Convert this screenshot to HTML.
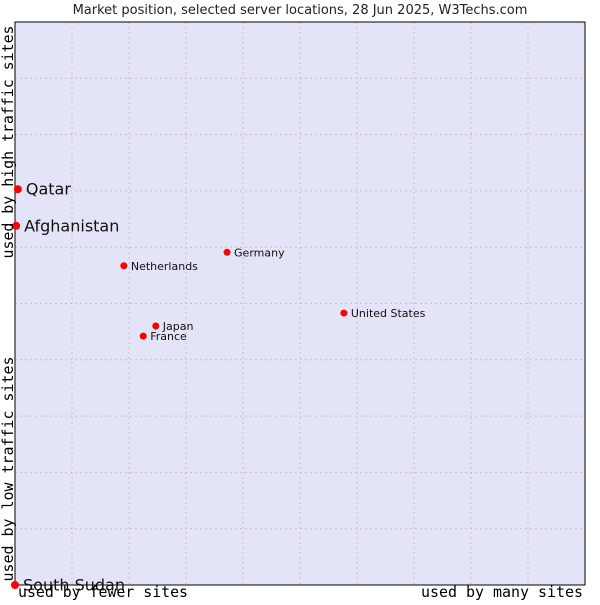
<!DOCTYPE html>
<html><head><meta charset="utf-8"><style>
body{margin:0;background:#fff;width:600px;height:600px;overflow:hidden}
svg{font-family:"DejaVu Sans","Liberation Sans",sans-serif}
</style></head><body>
<svg id="c" width="600" height="600">
<text x="300" y="14" text-anchor="middle" font-size="13" fill="#222">Market position, selected server locations, 28 Jun 2025, W3Techs.com</text>
<rect x="15" y="22" width="570" height="563" fill="#e3e4f7"/>
<g id="grid"></g>
<rect x="15" y="22" width="570" height="563" fill="none" stroke="#000" stroke-width="1"/>
<g id="pts"></g>
<text transform="translate(13,142) rotate(-90)" text-anchor="middle" textLength="233" lengthAdjust="spacingAndGlyphs" font-family="DejaVu Sans Mono,Liberation Mono,monospace" font-size="15">used by high traffic sites</text>
<text transform="translate(13,469) rotate(-90)" text-anchor="middle" textLength="225" lengthAdjust="spacingAndGlyphs" font-family="DejaVu Sans Mono,Liberation Mono,monospace" font-size="15">used by low traffic sites</text>
<text x="18" y="597" textLength="170" lengthAdjust="spacingAndGlyphs" font-family="DejaVu Sans Mono,Liberation Mono,monospace" font-size="15">used by fewer sites</text>
<text x="421" y="597" textLength="162" lengthAdjust="spacingAndGlyphs" font-family="DejaVu Sans Mono,Liberation Mono,monospace" font-size="15">used by many sites</text>
</svg>
<script>
const names=["Qatar","Afghanistan","Germany","Netherlands","United States","Japan","France","South Sudan"];
const xVals=[0.5,0.2,37.2,19.1,57.7,24.7,22.5,0];
const yVals=[70.3,63.8,59.1,56.7,48.3,46,44.2,0];
const big=[true,true,false,false,false,false,false,true];
const NS="http://www.w3.org/2000/svg";
const X=v=>15+v*5.7, Y=v=>585-v*5.63;
const grid=document.getElementById('grid');
for(let i=1;i<10;i++){
 const l=document.createElementNS(NS,'line');
 l.setAttribute('x1',X(i*10));l.setAttribute('x2',X(i*10));l.setAttribute('y1',22);l.setAttribute('y2',585);
 l.setAttribute('stroke','#c4c4c4');l.setAttribute('stroke-dasharray','2,3');
 
 
 grid.appendChild(l);
 const h=document.createElementNS(NS,'line');
 h.setAttribute('y1',Y(i*10));h.setAttribute('y2',Y(i*10));h.setAttribute('x1',15);h.setAttribute('x2',585);
 h.setAttribute('stroke','#c4c4c4');h.setAttribute('stroke-dasharray','2,3');
 
 
 grid.appendChild(h);
}
const pts=document.getElementById('pts');
names.forEach((n,i)=>{
 const cx=X(xVals[i]),cy=Y(yVals[i]);
 const c=document.createElementNS(NS,'circle');
 c.setAttribute('cx',cx);c.setAttribute('cy',cy);c.setAttribute('r',big[i]?4:3.5);c.setAttribute('fill','#f00');
 
 
 pts.appendChild(c);
 const t=document.createElementNS(NS,'text');
 t.setAttribute('x',cx+(big[i]?8:7));t.setAttribute('y',cy+(big[i]?5.5:4));
 t.setAttribute('font-size',big[i]?16:11);t.setAttribute('fill','#111');
 t.textContent=n;
 
 
 pts.appendChild(t);
});
</script>
</body></html>
